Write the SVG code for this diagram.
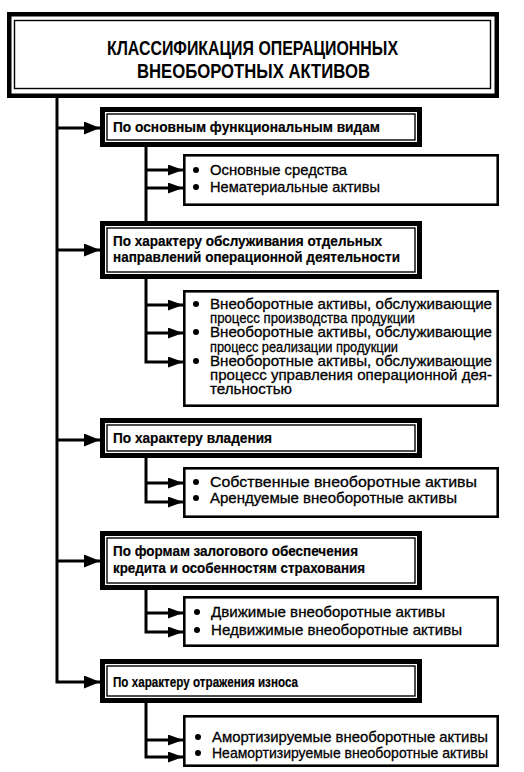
<svg xmlns="http://www.w3.org/2000/svg" width="524" height="772" viewBox="0 0 524 772">
<style>
.t{font-family:"Liberation Sans",Arial,sans-serif;font-size:15px;fill:#000;stroke:#000;stroke-width:0.3}
.b{font-weight:bold;stroke-width:0.2}
.h{font-family:"Liberation Sans",Arial,sans-serif;font-size:20.5px;font-weight:bold;fill:#000}
.ob{fill:#fff;stroke:#000;stroke-width:5}
.ib{fill:none;stroke:#000;stroke-width:1.4}
.sb{fill:#fff;stroke:#000;stroke-width:2.6}
.ln{fill:none;stroke:#000;stroke-width:3}
.bu{fill:#000}
</style>
<defs>
<marker id="am" viewBox="0 0 16 13" refX="16" refY="6.5" markerWidth="16" markerHeight="13" markerUnits="userSpaceOnUse" orient="auto"><path d="M0,0 L16,6.5 L0,13 z" fill="#000"/></marker>
<marker id="as" viewBox="0 0 15 11" refX="15" refY="5.5" markerWidth="15" markerHeight="11" markerUnits="userSpaceOnUse" orient="auto"><path d="M0,0 L15,5.5 L0,11 z" fill="#000"/></marker>
</defs>
<rect width="524" height="772" fill="#fff"/>
<g id="connectors">
<path class="ln" d="M57,98 V682 H100" marker-end="url(#am)"/>
<path class="ln" d="M57,128 H100" marker-end="url(#am)"/>
<path class="ln" d="M57,250 H100" marker-end="url(#am)"/>
<path class="ln" d="M57,440 H100" marker-end="url(#am)"/>
<path class="ln" d="M57,561 H100" marker-end="url(#am)"/>
<path class="ln" d="M146,147 V221"/>
<path class="ln" d="M146,170 H183" marker-end="url(#as)"/>
<path class="ln" d="M146,188 H183" marker-end="url(#as)"/>
<path class="ln" d="M146,279 V362 H183" marker-end="url(#as)"/>
<path class="ln" d="M146,305 H183" marker-end="url(#as)"/>
<path class="ln" d="M146,333 H183" marker-end="url(#as)"/>
<path class="ln" d="M146,458 V502 H183" marker-end="url(#as)"/>
<path class="ln" d="M146,483 H183" marker-end="url(#as)"/>
<path class="ln" d="M146,590 V632 H183" marker-end="url(#as)"/>
<path class="ln" d="M146,613 H183" marker-end="url(#as)"/>
<path class="ln" d="M146,703 V757 H183" marker-end="url(#as)"/>
<path class="ln" d="M146,740 H183" marker-end="url(#as)"/>
</g>
<g id="title">
<rect x="9.25" y="14.25" width="487.5" height="81.5" fill="#fff" stroke="#000" stroke-width="4.5"/>
<rect x="14.5" y="20.5" width="476" height="68" class="ib"/>
<text class="h" x="107" y="55" textLength="291" lengthAdjust="spacingAndGlyphs">КЛАССИФИКАЦИЯ ОПЕРАЦИОННЫХ</text>
<text class="h" x="137" y="78" textLength="233" lengthAdjust="spacingAndGlyphs">ВНЕОБОРОТНЫХ АКТИВОВ</text>
</g>
<g id="c1">
<rect class="ob" x="102.5" y="109.5" width="317" height="35"/>
<rect class="ib" x="107" y="114" width="308" height="26"/>
<text class="t b" x="113" y="132" textLength="267" lengthAdjust="spacingAndGlyphs">По основным функциональным видам</text>
</g>
<g id="s1">
<rect class="sb" x="184.3" y="155.3" width="313.4" height="49.4"/>
<circle class="bu" cx="196" cy="170" r="3"/>
<circle class="bu" cx="196" cy="187" r="3"/>
<text class="t" x="210" y="175" textLength="137" lengthAdjust="spacingAndGlyphs">Основные средства</text>
<text class="t" x="210" y="192" textLength="170" lengthAdjust="spacingAndGlyphs">Нематериальные активы</text>
</g>
<g id="c2">
<rect class="ob" x="102.5" y="223.5" width="317" height="53"/>
<rect class="ib" x="107" y="228" width="308" height="44"/>
<text class="t b" x="113" y="246" textLength="269" lengthAdjust="spacingAndGlyphs">По характеру обслуживания отдельных</text>
<text class="t b" x="113" y="262" textLength="287" lengthAdjust="spacingAndGlyphs">направлений операционной деятельности</text>
</g>
<g id="s2">
<rect class="sb" x="184.3" y="291.3" width="313.4" height="114.4"/>
<circle class="bu" cx="196" cy="304" r="3"/>
<circle class="bu" cx="196" cy="332" r="3"/>
<circle class="bu" cx="196" cy="361" r="3"/>
<text class="t" x="210" y="309" textLength="282" lengthAdjust="spacingAndGlyphs">Внеоборотные активы, обслуживающие</text>
<text class="t" x="210" y="323" textLength="205" lengthAdjust="spacingAndGlyphs">процесс производства продукции</text>
<text class="t" x="210" y="337" textLength="282" lengthAdjust="spacingAndGlyphs">Внеоборотные активы, обслуживающие</text>
<text class="t" x="210" y="352" textLength="188" lengthAdjust="spacingAndGlyphs">процесс реализации продукции</text>
<text class="t" x="210" y="366" textLength="282" lengthAdjust="spacingAndGlyphs">Внеоборотные активы, обслуживающие</text>
<text class="t" x="210" y="380" textLength="282" lengthAdjust="spacingAndGlyphs">процесс управления операционной дея-</text>
<text class="t" x="210" y="394" textLength="82" lengthAdjust="spacingAndGlyphs">тельностью</text>
</g>
<g id="c3">
<rect class="ob" x="102.5" y="420.5" width="317" height="35"/>
<rect class="ib" x="107" y="425" width="308" height="26"/>
<text class="t b" x="113" y="443" textLength="159" lengthAdjust="spacingAndGlyphs">По характеру владения</text>
</g>
<g id="s3">
<rect class="sb" x="184.3" y="468.3" width="313.4" height="48.4"/>
<circle class="bu" cx="196" cy="482" r="3"/>
<circle class="bu" cx="196" cy="498" r="3"/>
<text class="t" x="210" y="487" textLength="267" lengthAdjust="spacingAndGlyphs">Собственные внеоборотные активы</text>
<text class="t" x="210" y="503" textLength="247" lengthAdjust="spacingAndGlyphs">Арендуемые внеоборотные активы</text>
</g>
<g id="c4">
<rect class="ob" x="102.5" y="533.5" width="317" height="54"/>
<rect class="ib" x="107" y="538" width="308" height="45"/>
<text class="t b" x="113" y="556" textLength="245" lengthAdjust="spacingAndGlyphs">По формам залогового обеспечения</text>
<text class="t b" x="113" y="573" textLength="252" lengthAdjust="spacingAndGlyphs">кредита и особенностям страхования</text>
</g>
<g id="s4">
<rect class="sb" x="184.3" y="597.3" width="313.4" height="48.4"/>
<circle class="bu" cx="197" cy="612" r="3"/>
<circle class="bu" cx="197" cy="630" r="3"/>
<text class="t" x="211" y="617" textLength="234" lengthAdjust="spacingAndGlyphs">Движимые внеоборотные активы</text>
<text class="t" x="211" y="635" textLength="251" lengthAdjust="spacingAndGlyphs">Недвижимые внеоборотные активы</text>
</g>
<g id="c5">
<rect class="ob" x="102.5" y="661.5" width="317" height="39"/>
<rect class="ib" x="107" y="666" width="308" height="30"/>
<text class="t b" x="113" y="687" textLength="185" lengthAdjust="spacingAndGlyphs">По характеру отражения износа</text>
</g>
<g id="s5">
<rect class="sb" x="184.3" y="716.3" width="313.4" height="49.4"/>
<circle class="bu" cx="198" cy="737" r="3"/>
<circle class="bu" cx="198" cy="753" r="3"/>
<text class="t" x="212" y="742" textLength="276" lengthAdjust="spacingAndGlyphs">Амортизируемые внеоборотные активы</text>
<text class="t" x="212" y="758" textLength="276" lengthAdjust="spacingAndGlyphs">Неамортизируемые внеоборотные активы</text>
</g>
</svg>
